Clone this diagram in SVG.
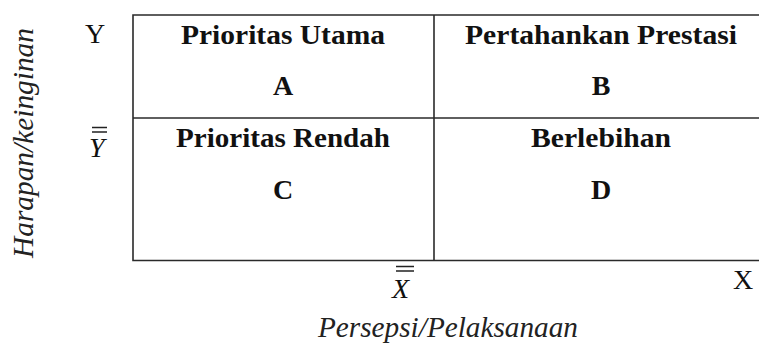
<svg xmlns="http://www.w3.org/2000/svg" width="759" height="351" viewBox="0 0 759 351">
<style>
.b{font-family:'Liberation Serif','Times New Roman','DejaVu Serif',serif;font-weight:bold;font-size:28px;fill:#111;text-anchor:middle}
.r{font-family:'Liberation Serif','Times New Roman','DejaVu Serif',serif;font-size:28px;fill:#111}
.i{font-family:'Liberation Serif','Times New Roman','DejaVu Serif',serif;font-style:italic;font-size:29px;fill:#222}
.ln{stroke:#2a2a2a;stroke-width:1.6;fill:none}
</style>
<rect width="759" height="351" fill="#fff"/>
<g id="connectors">
<path class="ln" d="M759,15 H133 V260.5 H759"/>
<path class="ln" d="M434,15 V260.5"/>
<path class="ln" d="M133,118 H759" stroke="#444"/>
</g>
<g id="quadA">
<text class="b" x="283" y="44" textLength="204" lengthAdjust="spacingAndGlyphs">Prioritas Utama</text>
<text class="b" x="283" y="95">A</text>
</g>
<g id="quadB">
<text class="b" x="601" y="44" textLength="272" lengthAdjust="spacingAndGlyphs">Pertahankan Prestasi</text>
<text class="b" x="601" y="95">B</text>
</g>
<g id="quadC">
<text class="b" x="283" y="147" textLength="214" lengthAdjust="spacingAndGlyphs">Prioritas Rendah</text>
<text class="b" x="283" y="199">C</text>
</g>
<g id="quadD">
<text class="b" x="601" y="147" textLength="140" lengthAdjust="spacingAndGlyphs">Berlebihan</text>
<text class="b" x="601" y="199">D</text>
</g>
<g id="axisY">
<text class="r" x="85" y="43">Y</text>
<text class="r" x="89" y="157" font-style="italic">Y</text>
<path d="M92,127.5 H107 M92,132 H107" stroke="#222" stroke-width="1.3"/>
<text class="i" transform="translate(33,143) rotate(-90)" text-anchor="middle" textLength="230" lengthAdjust="spacingAndGlyphs">Harapan/keinginan</text>
</g>
<g id="axisX">
<text class="r" x="392" y="298" font-style="italic">X</text>
<path d="M396,266.5 H414 M396,271 H414" stroke="#222" stroke-width="1.3"/>
<text class="r" x="733" y="289">X</text>
<text class="i" x="448" y="337" text-anchor="middle" textLength="260" lengthAdjust="spacingAndGlyphs">Persepsi/Pelaksanaan</text>
</g>
</svg>
